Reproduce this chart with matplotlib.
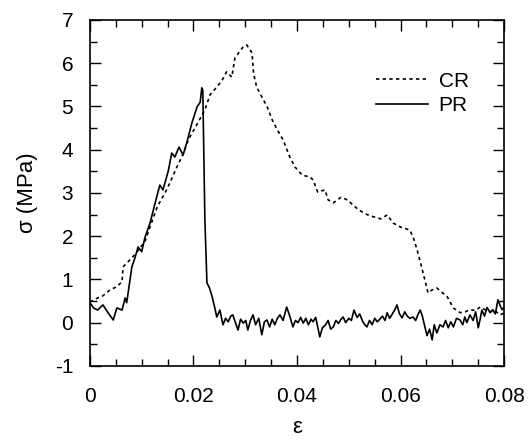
import matplotlib
matplotlib.use("Agg")
import matplotlib.pyplot as plt
from matplotlib.ticker import MultipleLocator

plt.rcParams['font.family'] = ['Liberation Sans', 'DejaVu Sans']
plt.rcParams['axes.unicode_minus'] = False

# CR curve (dotted) - strain / stress
cr_eps = [0.0, 0.0015, 0.0025, 0.0039, 0.005, 0.0062, 0.0064, 0.0073, 0.0085,
          0.0095, 0.0106, 0.0116, 0.013, 0.0145, 0.0155, 0.0168, 0.018, 0.019,
          0.0206, 0.0222, 0.0232, 0.0245, 0.0255, 0.0264, 0.0274, 0.028,
          0.0288, 0.0296, 0.0303, 0.0313, 0.0316, 0.0322, 0.0332, 0.0342,
          0.0352, 0.036, 0.0373, 0.0386, 0.0396, 0.041, 0.0425, 0.0431, 0.044,
          0.0454, 0.046, 0.047, 0.0485, 0.0497, 0.051, 0.052, 0.0535, 0.0547,
          0.0562, 0.0574, 0.0586, 0.06, 0.0618, 0.0625, 0.0632, 0.0642,
          0.0653, 0.066, 0.067, 0.068, 0.069, 0.0702, 0.0715, 0.0725, 0.0734,
          0.0744, 0.0754, 0.0763, 0.0773, 0.0782, 0.0792, 0.08]
cr_sig = [0.48, 0.57, 0.62, 0.76, 0.82, 0.94, 1.29, 1.40, 1.55,
          1.70, 1.87, 2.21, 2.68, 3.00, 3.25, 3.60, 3.90, 4.23,
          4.57, 4.92, 5.27, 5.45, 5.60, 5.80, 5.68, 6.12,
          6.25, 6.38, 6.42, 6.24, 5.77, 5.45, 5.22, 5.00,
          4.69, 4.50, 4.23, 3.83, 3.60, 3.41, 3.37, 3.30, 3.02,
          3.07, 2.84, 2.77, 2.90, 2.84, 2.70, 2.60, 2.50, 2.45,
          2.40, 2.49, 2.30, 2.21, 2.14, 1.95, 1.68, 1.22,
          0.69, 0.75, 0.80, 0.70, 0.60, 0.34, 0.23, 0.25, 0.30,
          0.28, 0.36, 0.30, 0.25, 0.28, 0.18, 0.22]

# PR curve (solid)
pr_eps = [0.0, 0.0007, 0.0015, 0.0025, 0.0035, 0.0045, 0.0052, 0.0062, 0.0068,
          0.0071, 0.0081, 0.0087, 0.0093, 0.01, 0.0106, 0.0116, 0.0126,
          0.0135, 0.0141, 0.0151, 0.0158, 0.0164, 0.0172, 0.018, 0.0187,
          0.0197, 0.0207, 0.0213, 0.0216, 0.0218, 0.0222, 0.0226, 0.0231,
          0.0236, 0.0241, 0.0245, 0.0251, 0.0257, 0.0262, 0.0267, 0.0272,
          0.0276, 0.0281, 0.0286, 0.0291, 0.0296, 0.0301, 0.0305, 0.031,
          0.0315, 0.032, 0.0326, 0.0332, 0.0337, 0.0342, 0.0347, 0.0352,
          0.0357, 0.0362, 0.0367, 0.0373, 0.038, 0.0386, 0.0392, 0.0397,
          0.0402, 0.0407, 0.0412, 0.0417, 0.0422, 0.0427, 0.0431, 0.0436,
          0.044, 0.0444, 0.0449, 0.0455, 0.046, 0.0465, 0.047, 0.0475,
          0.048, 0.0485, 0.0489, 0.0494, 0.05, 0.0505, 0.051, 0.0516,
          0.0521, 0.0527, 0.0531, 0.0535, 0.054, 0.0545, 0.055, 0.0555,
          0.056, 0.0565, 0.057, 0.0574, 0.0579, 0.0584, 0.0589, 0.0593,
          0.0598, 0.0603, 0.0608, 0.0613, 0.0618, 0.0624, 0.0629, 0.0634,
          0.0638, 0.0642, 0.0647, 0.0651, 0.0656, 0.0661, 0.0665, 0.067,
          0.0676, 0.0682, 0.0687, 0.0692, 0.0697, 0.0702, 0.0708, 0.0715,
          0.072, 0.0724, 0.0728, 0.0734, 0.074, 0.0745, 0.075, 0.0754,
          0.0757, 0.0762, 0.0767, 0.0773, 0.0778, 0.0783, 0.0788, 0.0792,
          0.0796, 0.08]
pr_sig = [0.46, 0.34, 0.29, 0.41, 0.23, 0.06, 0.34, 0.29, 0.57,
          0.46, 1.29, 1.50, 1.75, 1.64, 1.96, 2.30, 2.77,
          3.18, 3.07, 3.49, 3.92, 3.83, 4.06, 3.88, 4.16,
          4.62, 4.99, 5.10, 5.43, 5.38, 2.38, 0.92, 0.80,
          0.60, 0.35, 0.13, 0.29, -0.05, 0.10, 0.02, 0.15,
          0.18, 0.00, -0.17, 0.08, -0.01, 0.05, -0.17, 0.05,
          0.18, -0.05, 0.10, -0.28, 0.02, 0.06, -0.10, 0.08,
          -0.05, 0.10, 0.18, 0.05, 0.36, 0.15, -0.10, 0.05,
          0.00, 0.12, -0.01, 0.10, -0.05, 0.08, 0.02, 0.12,
          -0.10, -0.33, -0.12, -0.05, 0.05, -0.15, -0.10, 0.05,
          -0.02, 0.08, 0.13, 0.00, 0.10, 0.05, 0.29, 0.12,
          0.20, 0.02, -0.05, -0.10, 0.05, -0.05, 0.10, 0.02,
          0.08, 0.15, 0.05, 0.23, 0.10, 0.20, 0.30, 0.41,
          0.20, 0.11, 0.25, 0.15, 0.10, 0.13, 0.05, 0.20,
          0.29, 0.15, -0.10, -0.30, -0.15, -0.40, -0.05, -0.24,
          -0.05, -0.10, 0.05, -0.12, 0.02, -0.10, 0.10, 0.06,
          -0.05, 0.13, 0.00, 0.18, 0.05, 0.25, -0.12, 0.10,
          0.29, 0.15, 0.35, 0.23, 0.30, 0.20, 0.53, 0.40,
          0.30, 0.35]

fig = plt.figure(figsize=(5.29, 4.44), dpi=100)
ax = fig.add_axes([0.170, 0.176, 0.783, 0.779])

ax.plot(cr_eps, cr_sig, color='black', lw=1.2, linestyle=(0, (2, 2)), label='CR')
ax.plot(pr_eps, pr_sig, color='black', lw=1.2, label='PR')

ax.set_xlim(0, 0.08)
ax.set_ylim(-1, 7)
ax.set_xticks([0, 0.02, 0.04, 0.06, 0.08])
ax.set_xticklabels(['0', '0.02', '0.04', '0.06', '0.08'])
ax.xaxis.set_minor_locator(MultipleLocator(0.005))
ax.yaxis.set_major_locator(MultipleLocator(1))
ax.yaxis.set_minor_locator(MultipleLocator(0.5))
ax.tick_params(which='both', direction='in', top=True, right=True,
               labelsize=15, width=1.0)
ax.tick_params(which='major', length=8)
ax.tick_params(which='minor', length=5)
ax.tick_params(axis='x', which='major', pad=15)
ax.tick_params(axis='y', which='major', pad=12)
for s in ax.spines.values():
    s.set_linewidth(1.2)

ax.set_xlabel('ε', fontsize=16, labelpad=8)
ax.set_ylabel('σ (MPa)', fontsize=16, labelpad=12)

ax.legend(loc='upper right', bbox_to_anchor=(0.96, 0.905), frameon=False,
          fontsize=15, handlelength=2.5, handletextpad=0.5, labelspacing=0.25)

fig.savefig('out.png', dpi=100)
